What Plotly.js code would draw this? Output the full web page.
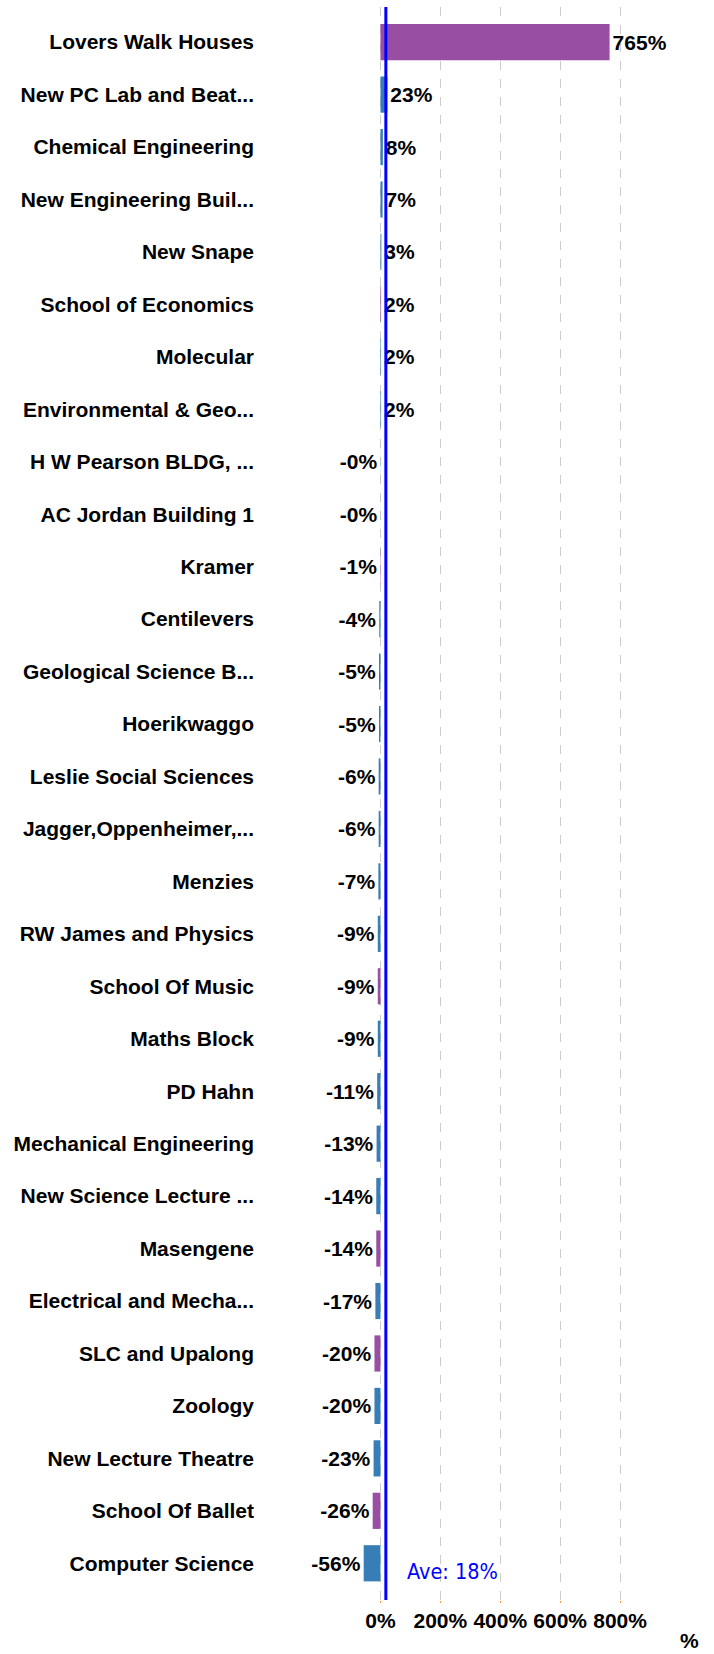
<!DOCTYPE html>
<html>
<head>
<meta charset="utf-8">
<script src="https://cdn.plot.ly/plotly-3.0.1.min.js"></script>
<style>html,body{margin:0;padding:0;background:#fff;}#chart{width:714px;height:1654px;}</style>
</head>
<body>
<div id="chart"></div>
<script>
// Data
const categories = [
  "Lovers Walk Houses", "New PC Lab and Beat...", "Chemical Engineering", "New Engineering Buil...",
  "New Snape", "School of Economics", "Molecular", "Environmental & Geo...",
  "H W Pearson BLDG, ...", "AC Jordan Building 1", "Kramer", "Centilevers",
  "Geological Science B...", "Hoerikwaggo", "Leslie Social Sciences", "Jagger,Oppenheimer,...",
  "Menzies", "RW James and Physics", "School Of Music", "Maths Block",
  "PD Hahn", "Mechanical Engineering", "New Science Lecture ...", "Masengene",
  "Electrical and Mecha...", "SLC and Upalong", "Zoology", "New Lecture Theatre",
  "School Of Ballet", "Computer Science"
];
const changePct = [
  765, 23, 8, 7,
  3, 2, 2, 2,
  -0.3, -0.2, -1, -4,
  -5, -5, -6, -6,
  -7, -9, -9, -9,
  -11, -13, -14, -14,
  -17, -20, -20, -23,
  -26, -56
];
const groups = [
  "B", "A", "A", "A",
  "A", "B", "A", "A",
  "A", "A", "B", "A",
  "A", "A", "A", "A",
  "A", "A", "B", "A",
  "A", "A", "A", "B",
  "A", "B", "A", "A",
  "B", "A"
];
const averagePct = 18;
const averageLabel = "Ave: 18%";
const xTickValues = [0, 200, 400, 600, 800];
const xTickLabels = ["0%", "200%", "400%", "600%", "800%"];
const xAxisLabel = "%";

const groupColors = {A: "#377EB8", B: "#984EA3"};
const labels = changePct.map(v => (v < 0 ? "-" : "") + Math.abs(Math.round(v)) + "%");

const boldFont = {family: "Arial, 'Liberation Sans', sans-serif", size: 21, color: "#000", weight: "bold"};

const trace = {
  type: "bar",
  orientation: "h",
  y: categories,
  x: changePct,
  marker: {color: groups.map(g => groupColors[g])},
  text: labels,
  textposition: "outside",
  textfont: boldFont,
  cliponaxis: false,
  hoverinfo: "none"
};

const layout = {
  width: 714,
  height: 1654,
  margin: {l: 358, r: 49, t: 7, b: 54},
  paper_bgcolor: "#fff",
  plot_bgcolor: "#fff",
  showlegend: false,
  bargap: 0.31,
  font: boldFont,
  xaxis: {
    range: [-75, 950],
    tickvals: xTickValues,
    ticktext: xTickLabels,
    showgrid: true,
    gridcolor: "#cccccc",
    griddash: "dash",
    gridwidth: 1,
    zeroline: false,
    showline: false,
    ticks: "outside",
    ticklen: 2,
    tickcolor: "#ff9a3c",
    tickfont: boldFont,
    fixedrange: true
  },
  yaxis: {
    type: "category",
    autorange: false,
    range: [29.7, -0.67],
    showgrid: false,
    zeroline: false,
    showline: false,
    ticks: "",
    ticklabelstandoff: 103,
    tickfont: boldFont,
    fixedrange: true
  },
  shapes: [{
    type: "line",
    xref: "x", yref: "paper",
    x0: averagePct, x1: averagePct, y0: 0, y1: 1,
    line: {color: "#0000ff", width: 3}
  }],
  annotations: [
    {
      xref: "x", yref: "paper",
      x: averagePct, y: 0.0176,
      xanchor: "left", yanchor: "middle",
      xshift: 19,
      text: averageLabel,
      showarrow: false,
      font: {family: "'DejaVu Sans Condensed', 'DejaVu Sans', Verdana, sans-serif", size: 21.5, color: "#0000ff", weight: "normal"}
    },
    {
      xref: "paper", yref: "paper",
      x: 1.08, y: -0.0255,
      xanchor: "center", yanchor: "middle",
      text: xAxisLabel,
      showarrow: false,
      font: boldFont
    }
  ]
};

Plotly.newPlot("chart", [trace], layout, {displayModeBar: false, staticPlot: true});
</script>
</body>
</html>
